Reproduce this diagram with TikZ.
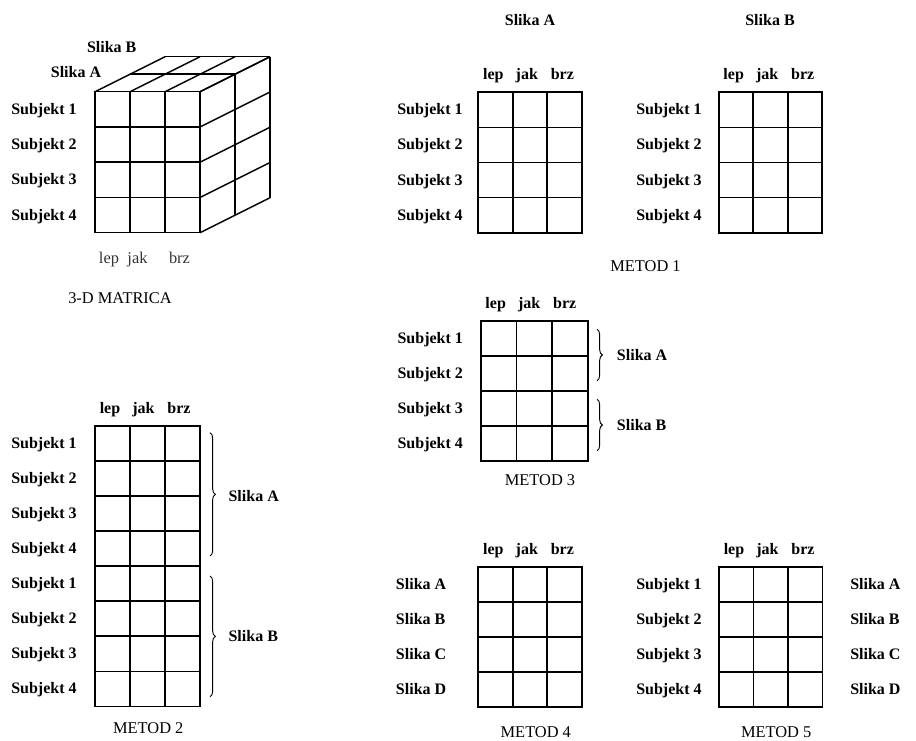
\documentclass[tikz,border=0pt]{standalone}
\usepackage{fontspec}
\setmainfont{Liberation Serif}
\usepackage{tikz}
\usetikzlibrary{decorations.pathreplacing}
\definecolor{matline}{HTML}{000000}
\definecolor{matsoft}{HTML}{333333}
\tikzstyle{gridline} = [line width=1.3pt, matline]
\tikzstyle{cubeline} = [line width=1.1pt, matline]
\tikzstyle{lbl} = [font=\bfseries\fontsize{12}{14}\selectfont, inner sep=0pt, anchor=base]
\tikzstyle{caption} = [font=\fontsize{12.3}{14}\selectfont, inner sep=0pt, anchor=base]
\tikzstyle{brc} = [decorate, decoration={brace, amplitude=4pt}, line width=0.7pt, matline]

\begin{document}
\begin{tikzpicture}[x=0.75pt, y=-0.75pt]
\useasboundingbox (0,0) rectangle (916,741);

% 3-D matrix
\draw[cubeline] (95,91.7) rectangle (200,232.7);
\foreach \i in {1,2} \draw[cubeline] ({95+\i*35},91.7) -- ({95+\i*35},232.7);
\foreach \j in {1,2,3} \draw[cubeline] (95,{91.7+\j*35.25}) -- (200,{91.7+\j*35.25});
\foreach \k in {1,2}{
  \draw[cubeline] ({95+\k*35},{91.7-\k*17.5}) -- ({200+\k*35},{91.7-\k*17.5});
  \draw[cubeline] ({200+\k*35},{91.7-\k*17.5}) -- ({200+\k*35},{232.7-\k*17.5});
}
\foreach \x in {95,130,165,200} \draw[cubeline] (\x,91.7) -- ({\x+70},56.7);
\foreach \j in {0,...,4} \draw[cubeline] (200,{91.7+\j*35.25}) -- (270,{56.7+\j*35.25});
\node[lbl] (cube-sb) at (111.7,52.3) {Slika B};
\node[lbl] (cube-sa) at (76,78) {Slika A};
\foreach \r in {1,...,4}
  \node[lbl, anchor=base west] (cube-s\r) at (11,{96.7+(\r-0.5)*35.25}) {Subjekt \r};
\node[caption, text=matsoft] (cube-lep) at (109,263.5) {lep};
\node[caption, text=matsoft] (cube-jak) at (137.5,263.5) {jak};
\node[caption, text=matsoft] (cube-brz) at (179.5,263.5) {brz};
\node[caption] (cube-cap) at (120,303) {3-D MATRICA};

% flat matrices
\foreach \gx/\gy/\cw/\nr/\gid in {478.3/92.3/34.5/4/ma, 718.7/92.3/34.5/4/mb, 480.7/320.7/35.7/4/mc, 95/425.7/35/8/md, 478.3/566.7/34.5/4/me, 719/566.7/34.5/4/mf}{
  \draw[gridline] (\gx,\gy) rectangle ({\gx+3*\cw},{\gy+\nr*35.1});
  \foreach \i in {1,2} \draw[gridline] ({\gx+\i*\cw},\gy) -- ({\gx+\i*\cw},{\gy+\nr*35.1});
  \pgfmathtruncatemacro\nrm{\nr-1}
  \foreach \j in {1,...,\nrm} \draw[gridline] (\gx,{\gy+\j*35.1}) -- ({\gx+3*\cw},{\gy+\j*35.1});
  \node[lbl] (\gid-lep) at ({\gx+15},{\gy-12.3}) {lep};
  \node[lbl] (\gid-jak) at ({\gx+48.5},{\gy-12.3}) {jak};
  \node[lbl] (\gid-brz) at ({\gx+84},{\gy-12.3}) {brz};
}

% row labels
\foreach \gx/\gy/\gid in {397/92.3/ma, 636/92.3/mb, 397.3/320.7/mc, 636/566.7/mf}
  \foreach \r in {1,...,4}
    \node[lbl, anchor=base west] (\gid-s\r) at (\gx,{\gy+5+(\r-0.5)*35.1}) {Subjekt \r};
\foreach \r/\s in {1/1,2/2,3/3,4/4,5/1,6/2,7/3,8/4}
  \node[lbl, anchor=base west] (md-s\r) at (11,{425.7+5+(\r-0.5)*35.1}) {Subjekt \s};
\foreach \r/\s in {1/A,2/B,3/C,4/D}{
  \node[lbl, anchor=base west] (me-s\r) at (395.7,{566.7+5+(\r-0.5)*35.1}) {Slika \s};
  \node[lbl, anchor=base west] (mf-t\r) at (850,{566.7+5+(\r-0.5)*35.1}) {Slika \s};
}

% titles
\node[lbl] (ma-title) at (530,26) {Slika A};
\node[lbl] (mb-title) at (770,26) {Slika B};

% braces
\coordinate (mc-a1) at (597,329.3);
\coordinate (mc-a2) at (597,380.7);
\coordinate (mc-b1) at (597,399.3);
\coordinate (mc-b2) at (597,450.7);
\coordinate (md-a1) at (210,432.7);
\coordinate (md-a2) at (210,556);
\coordinate (md-b1) at (210,576);
\coordinate (md-b2) at (210,696.7);
\draw[brc] (mc-a1) -- (mc-a2);
\draw[brc] (mc-b1) -- (mc-b2);
\draw[brc] (md-a1) -- (md-a2);
\draw[brc] (md-b1) -- (md-b2);
\node[lbl, anchor=base west] (mc-sa) at (616.7,360) {Slika A};
\node[lbl, anchor=base west] (mc-sb) at (616.7,430) {Slika B};
\node[lbl, anchor=base west] (md-sa) at (228.3,501.7) {Slika A};
\node[lbl, anchor=base west] (md-sb) at (228.3,641.7) {Slika B};

% captions
\node[caption] (cap1) at (645.5,272) {METOD 1};
\node[caption] (cap3) at (540,485.3) {METOD 3};
\node[caption] (cap2) at (148.3,733.5) {METOD 2};
\node[caption] (cap4) at (535.8,737) {METOD 4};
\node[caption] (cap5) at (776.2,737) {METOD 5};
\end{tikzpicture}
\end{document}
